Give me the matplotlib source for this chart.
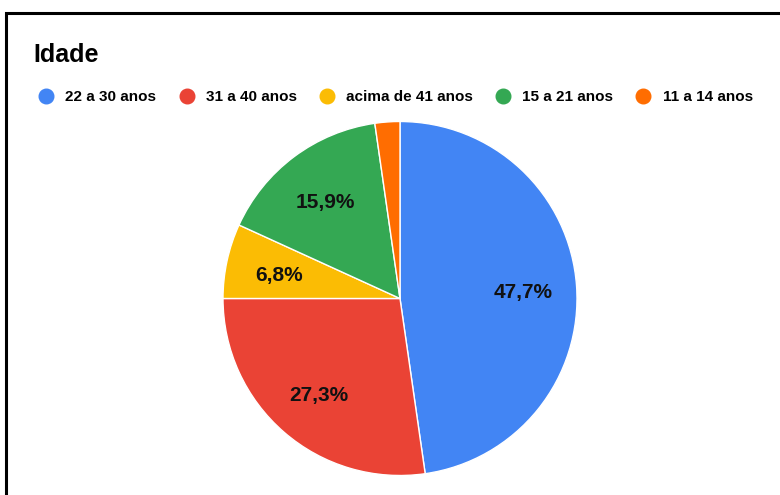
import matplotlib
matplotlib.use("Agg")
import matplotlib.pyplot as plt
from matplotlib.lines import Line2D
from matplotlib.patches import Rectangle
from matplotlib.transforms import ScaledTranslation

plt.rcParams['font.family'] = ['Liberation Sans', 'DejaVu Sans']

# respostas por faixa etária (44 respostas)
labels = ['22 a 30 anos', '31 a 40 anos', 'acima de 41 anos', '15 a 21 anos', '11 a 14 anos']
counts = [21, 12, 3, 7, 1]
colors = ['#4285F4', '#EA4335', '#FBBC04', '#34A853', '#FF6D01']

W, H = 780, 495
fig = plt.figure(figsize=(W / 100, H / 100), dpi=100)

# pie: centre (400, 298) px, radius 177 px
cx, cy, r = 400, 298.5, 177
ax = fig.add_axes([(cx - r) / W, (H - cy - r) / H, 2 * r / W, 2 * r / H])


def fmt(p):
    if p < 5:
        return ''
    return ('%.1f%%' % p).replace('.', ',')


wedges, _, autotexts = ax.pie(counts, colors=colors, startangle=90, counterclock=False,
                              autopct=fmt, pctdistance=0.7, radius=1,
                              wedgeprops=dict(edgecolor='white', linewidth=1))
shift = ScaledTranslation(0, -3 / 100, fig.dpi_scale_trans)
for t in autotexts:
    t.set_fontsize(15)
    t.set_fontweight('bold')
    t.set_color('#111111')
    t.set_transform(t.get_transform() + shift)
ax.set_xlim(-1, 1)
ax.set_ylim(-1, 1)

fig.text(33 / W, 1 - 55 / H, 'Idade', fontsize=18, fontweight='bold', va='center', ha='left')

handles = [Line2D([], [], marker='o', linestyle='', markersize=10.5,
                  markerfacecolor=c, markeredgecolor=c) for c in colors]
fig.legend(handles, labels, loc='center left', bbox_to_anchor=(37 / W, 1 - 97 / H),
           ncol=5, frameon=False, handletextpad=0.65, columnspacing=1.38,
           handlelength=1.2, borderaxespad=0, borderpad=0,
           prop=dict(size=11, weight='bold'))

# black frame (only top and left edges visible in the crop)
fig.patches.append(Rectangle((6 / W, -0.1), 1.2, 1 - 13 / H + 0.1, transform=fig.transFigure,
                             fill=False, edgecolor='black', linewidth=2.2))

fig.savefig('out.png', dpi=100)
